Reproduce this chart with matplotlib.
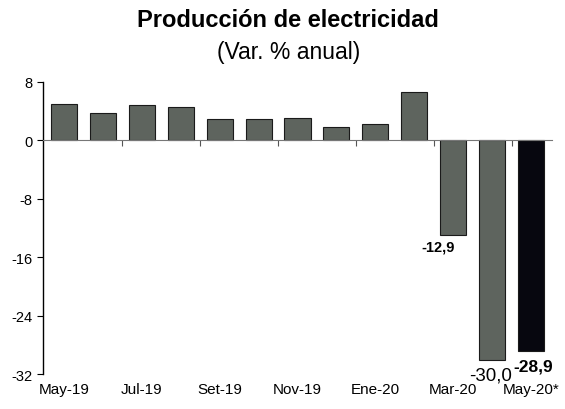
import numpy as np
import matplotlib.pyplot as plt

plt.rcParams['font.family'] = ['Liberation Sans', 'DejaVu Sans']
plt.rcParams['axes.unicode_minus'] = False

meses = ['May-19', 'Jun-19', 'Jul-19', 'Ago-19', 'Set-19', 'Oct-19', 'Nov-19',
         'Dic-19', 'Ene-20', 'Feb-20', 'Mar-20', 'Abr-20', 'May-20*']
var_anual = [5.0, 3.8, 4.8, 4.6, 2.9, 2.9, 3.1, 1.8, 2.2, 6.6, -12.9, -30.0, -28.9]
etiquetas = {10: '-12,9', 11: '-30,0', 12: '-28,9'}

x = np.arange(len(meses))
colores = ['#5e645e'] * (len(meses) - 1) + ['#07070f']

fig = plt.figure(figsize=(5.65, 4.10), dpi=100)
ax = fig.add_axes([0.0761, 0.085, 0.9009, 0.713])

ax.bar(x, var_anual, width=0.67, color=colores, edgecolor='#1a1a1a', linewidth=0.8, zorder=2)

ax.set_ylim(-32, 8)
ax.set_yticks(np.arange(-32, 9, 8))
ax.set_xlim(-0.54, len(meses) - 0.46)

# eje x en cero, ticks entre pares de barras
ax.spines['bottom'].set_position(('data', 0))
ax.spines['bottom'].set_color('#777777')
ax.spines['top'].set_visible(False)
ax.spines['right'].set_visible(False)
ax.spines['left'].set_linewidth(1.0)
ax.set_xticks(np.arange(1.5, len(meses) - 1, 2))
ax.set_xticklabels([])
ax.tick_params(axis='x', length=4, direction='out', color='#555555')
ax.tick_params(axis='y', length=4, labelsize=10.5)

for i in range(0, len(meses), 2):
    ax.text(x[i], -34.1, meses[i], ha='center', va='center', fontsize=11)

ax.text(x[10] - 0.38, -14.6, etiquetas[10], ha='center', va='center', fontsize=10.5, fontweight='bold')
ax.text(x[11] - 0.05, -32.1, etiquetas[11], ha='center', va='center', fontsize=13.5)
ax.text(x[12] + 0.05, -30.9, etiquetas[12], ha='center', va='center', fontsize=12.5, fontweight='bold')

fig.text(0.51, 0.951, 'Producción de electricidad', ha='center', va='center',
         fontsize=17, fontweight='bold')
fig.text(0.51, 0.873, '(Var. % anual)', ha='center', va='center', fontsize=16.5)

fig.savefig('out.png', dpi=100)
